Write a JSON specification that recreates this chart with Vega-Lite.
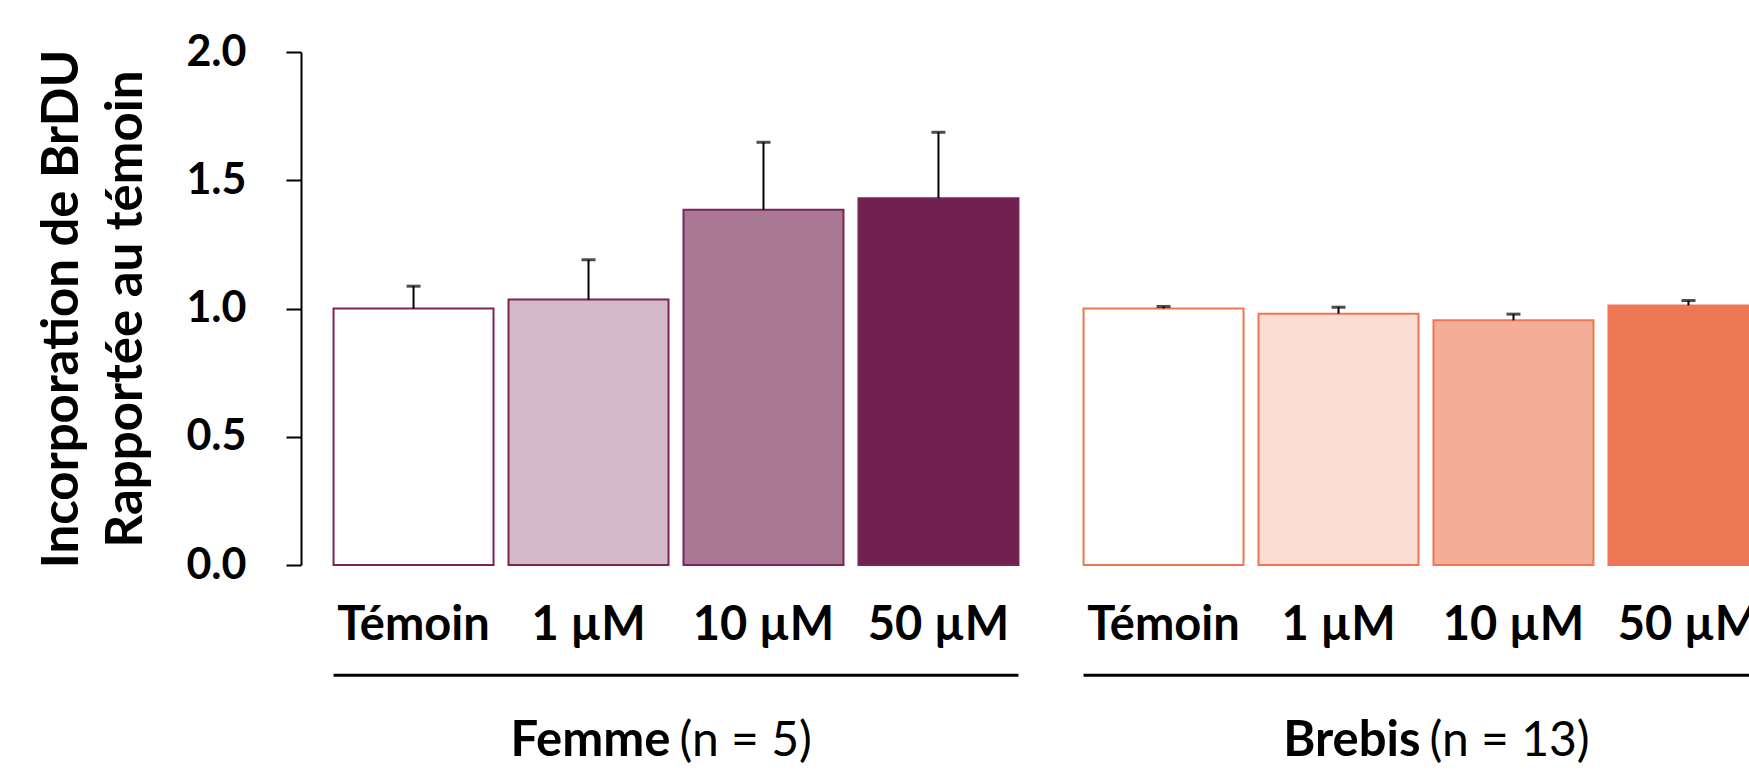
{
  "$schema": "https://vega.github.io/schema/vega-lite/v6.json",
  "background": "white",
  "padding": {"left": 36, "top": 31, "right": 0, "bottom": 0},
  "config": {"view": {"stroke": null}, "font": "Lato", "axis": {"grid": false}},
  "data": {"values": [
    {"group": "Femme", "nlabel": "(n = 5)", "dose": "Témoin", "key": "Femme Témoin", "mean": 1.0, "upper": 1.087},
    {"group": "Femme", "nlabel": "(n = 5)", "dose": "1 µM", "key": "Femme 1 µM", "mean": 1.035, "upper": 1.19},
    {"group": "Femme", "nlabel": "(n = 5)", "dose": "10 µM", "key": "Femme 10 µM", "mean": 1.385, "upper": 1.648},
    {"group": "Femme", "nlabel": "(n = 5)", "dose": "50 µM", "key": "Femme 50 µM", "mean": 1.43, "upper": 1.687},
    {"group": "Brebis", "nlabel": "(n = 13)", "dose": "Témoin", "key": "Brebis Témoin", "mean": 1.0, "upper": 1.008},
    {"group": "Brebis", "nlabel": "(n = 13)", "dose": "1 µM", "key": "Brebis 1 µM", "mean": 0.98, "upper": 1.005},
    {"group": "Brebis", "nlabel": "(n = 13)", "dose": "10 µM", "key": "Brebis 10 µM", "mean": 0.954, "upper": 0.978},
    {"group": "Brebis", "nlabel": "(n = 13)", "dose": "50 µM", "key": "Brebis 50 µM", "mean": 1.012, "upper": 1.031}
  ]},
  "facet": {"column": {"field": "group", "type": "nominal", "sort": ["Femme", "Brebis"], "header": null}},
  "spacing": 0,
  "resolve": {"axis": {"x": "independent"}},
  "spec": {
    "width": 750,
    "height": 513,
    "encoding": {
      "x": {
        "field": "dose", "type": "nominal", "sort": ["Témoin", "1 µM", "10 µM", "50 µM"],
        "scale": {"paddingInner": 0.0857, "paddingOuter": 0.186},
        "axis": {"title": null, "domain": false, "ticks": false, "labelAngle": 0, "labelFontSize": 47, "labelFontWeight": "bold", "labelColor": "black", "labelPadding": 37}
      }
    },
    "layer": [
      {
        "mark": {"type": "bar", "strokeWidth": 2},
        "encoding": {
          "y": {
            "field": "mean", "type": "quantitative",
            "scale": {"domain": [0, 2], "nice": false},
            "axis": {
              "title": ["Incorporation de BrDU", "Rapportée au témoin"],
              "titleFontSize": 51, "titleFontWeight": "bold", "titleColor": "black", "titleLineHeight": 64, "titlePadding": 33,
              "values": [0, 0.5, 1, 1.5, 2], "format": ".1f",
              "labelFontSize": 43, "labelFontWeight": "bold", "labelColor": "black", "labelPadding": 40,
              "tickSize": 15, "tickWidth": 2, "tickColor": "black", "domainColor": "black", "domainWidth": 2
            }
          },
          "fill": {
            "field": "key", "type": "nominal", "legend": null,
            "scale": {
              "domain": ["Femme Témoin", "Femme 1 µM", "Femme 10 µM", "Femme 50 µM", "Brebis Témoin", "Brebis 1 µM", "Brebis 10 µM", "Brebis 50 µM"],
              "range": ["#ffffff", "#d4bac9", "#a97895", "#722050", "#ffffff", "#f9dcd2", "#f4ae98", "#ee7753"]
            }
          },
          "stroke": {
            "field": "group", "type": "nominal", "legend": null,
            "scale": {"domain": ["Femme", "Brebis"], "range": ["#7a2458", "#ee7753"]}
          }
        }
      },
      {
        "mark": {"type": "rule", "strokeWidth": 2, "color": "black"},
        "encoding": {
          "y": {"field": "mean", "type": "quantitative"},
          "y2": {"field": "upper"}
        }
      },
      {
        "mark": {"type": "tick", "color": "black", "thickness": 3, "size": 14},
        "encoding": {"y": {"field": "upper", "type": "quantitative"}}
      },
      {
        "transform": [{"filter": "datum.dose === 'Témoin'"}],
        "mark": {"type": "rule", "strokeWidth": 3, "color": "black"},
        "encoding": {
          "x": {"datum": "Témoin", "bandPosition": 0},
          "x2": {"datum": "50 µM", "bandPosition": 1},
          "y": {"datum": -0.43, "type": "quantitative"}
        }
      },
      {
        "transform": [{"filter": "datum.dose === 'Témoin'"}],
        "mark": {"type": "text", "align": "right", "baseline": "alphabetic", "fontSize": 49, "fontWeight": "bold", "color": "black", "dx": 2},
        "encoding": {
          "x": {"datum": "1 µM", "bandPosition": 1},
          "y": {"datum": -0.745, "type": "quantitative"},
          "text": {"field": "group"}
        }
      },
      {
        "transform": [{"filter": "datum.dose === 'Témoin'"}],
        "mark": {"type": "text", "align": "left", "baseline": "alphabetic", "fontSize": 48, "fontWeight": "normal", "color": "black", "dx": 11},
        "encoding": {
          "x": {"datum": "1 µM", "bandPosition": 1},
          "y": {"datum": -0.745, "type": "quantitative"},
          "text": {"field": "nlabel"}
        }
      }
    ]
  }
}
